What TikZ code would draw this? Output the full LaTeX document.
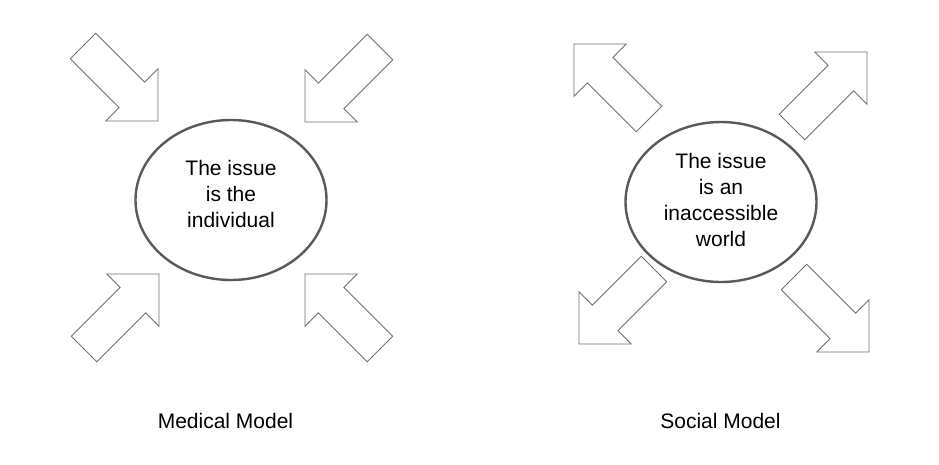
\documentclass[tikz,border=0pt]{standalone}
\usepackage{fontspec}
\setmainfont{Liberation Sans}
\usetikzlibrary{shapes.geometric}

\definecolor{rimgray}{HTML}{595959}
\definecolor{arrowgray}{HTML}{707070}

\begin{document}
\begin{tikzpicture}[%
        x=1pt,
        y=-1pt,
        issue/.style={ellipse, draw=rimgray, line width=2.4pt,
            minimum width=191pt, minimum height=160pt},
        issuetext/.style={align=center, font=\fontsize{21}{26}\selectfont},
        caption/.style={font=\fontsize{21}{26}\selectfont},
        blockarrow/.pic={
            \draw[arrowgray, line width=0.9pt, line join=miter]
                (0,0) -- (-37,37) -- (-37,18) -- (-106,18)
                -- (-106,-18) -- (-37,-18) -- (-37,-37) -- cycle;
        }
        ]
        \useasboundingbox (0,0) rectangle (939,464);

        % medical model
        \node[issue] (medical) at (231,200) {};
        \node[issuetext] (medicaltext) at ([yshift=6pt]medical.center)
            {The issue\\is the\\individual};
        \pic[rotate=-45] at (158,121) {blockarrow};
        \pic[rotate=-135] at (305,122) {blockarrow};
        \pic[rotate=45] at (159,274) {blockarrow};
        \pic[rotate=135] at (305,274) {blockarrow};
        \node[caption] (medicalcap) at (225.5,421) {Medical Model};

        % social model
        \node[issue] (social) at (721,202) {};
        \node[issuetext] (socialtext) at ([yshift=2pt]social.center)
            {The issue\\is an\\inaccessible\\world};
        \pic[rotate=135] at (574,44) {blockarrow};
        \pic[rotate=45] at (867,52) {blockarrow};
        \pic[rotate=-135] at (579,344) {blockarrow};
        \pic[rotate=-45] at (869,352) {blockarrow};
        \node[caption] (socialcap) at (720.5,421) {Social Model};

    \end{tikzpicture}
\end{document}
